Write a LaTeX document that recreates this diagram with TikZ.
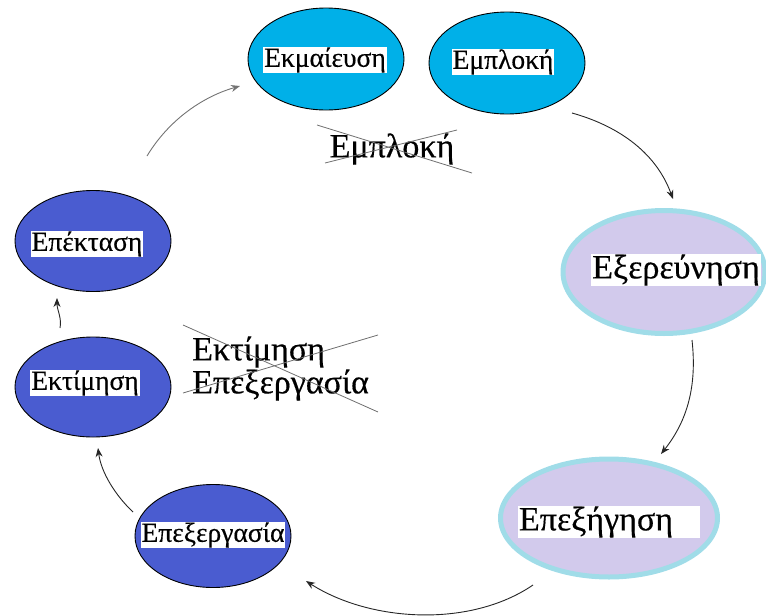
\documentclass[tikz,border=0pt]{standalone}
\usepackage{fontspec}
\setmainfont[FakeBold=0.4,AutoFakeBold=0.4]{Liberation Serif}
\usetikzlibrary{shapes.geometric,arrows.meta}
\definecolor{cyanfill}{RGB}{0,176,232}
\definecolor{bluefill}{RGB}{74,92,208}
\definecolor{lavfill}{RGB}{210,202,236}
\definecolor{lavborder}{RGB}{160,220,232}
\definecolor{strikegray}{RGB}{110,110,110}
\tikzset{
  blob/.style={ellipse, draw=black, line width=0.9pt, inner sep=0pt},
  cyanblob/.style={blob, fill=cyanfill, minimum width=156pt, minimum height=102pt},
  blueblob/.style={blob, fill=bluefill, minimum width=156pt, minimum height=101pt},
  lavblob/.style={ellipse, draw=lavborder, line width=5pt, fill=lavfill, inner sep=0pt},
  lab/.style={fill=white, inner xsep=1pt, inner ysep=0pt, text=black, font=\fontsize{27.5}{29}\selectfont\bfseries},
  biglab/.style={fill=white, inner xsep=1pt, inner ysep=0pt, text=black, font=\fontsize{34}{36}\selectfont\bfseries},
  strikelab/.style={inner sep=0pt, text=black, anchor=west, font=\fontsize{34}{36}\selectfont\bfseries},
  strikeline/.style={draw=strikegray, line width=0.8pt},
  flow/.style={draw=black!85, line width=0.9pt, -{Stealth[length=9pt,width=7pt]}},
}
\begin{document}
\begin{tikzpicture}[x=1pt,y=-1pt]
\useasboundingbox (0,0) rectangle (766,616);

% ellipses
\node[cyanblob] (ekm) at (326,59) {};
\node[lab] (ekmL) at (325,60) {Εκμαίευση};
\node[cyanblob] (empl) at (507,63) {};
\node[lab] (emplL) at (503,62) {Εμπλοκή};
\node[lavblob, minimum width=202pt, minimum height=123pt] (exer) at (664,272) {};
\node[biglab] (exerL) at (676,270) {Εξερεύνηση};
\node[lavblob, minimum width=217pt, minimum height=118pt] (epex) at (609,518) {};
\node[biglab, text width=180pt, align=left] (epexL) at (609,522) {Επεξήγηση};
\node[blueblob] (epek) at (93,241) {};
\node[lab] (epekL) at (87,244) {Επέκταση};
\node[blueblob, minimum height=100pt] (ektim) at (93,387) {};
\node[lab] (ektimL) at (85,383) {Εκτίμηση};
\node[blueblob, minimum height=103pt] (epexerg) at (213,536) {};
\node[lab] (epexergL) at (213,535) {Επεξεργασία};

% struck-out texts
\node[strikelab, anchor=center] (strike1) at (392,149) {Εμπλοκή};
\draw[strikeline] (317,125) -- (472,173);
\draw[strikeline] (325,163) -- (457,130);
\node[strikelab] (strike2) at (192,352) {Εκτίμηση};
\node[strikelab] (strike3) at (192,385) {Επεξεργασία};
\draw[strikeline] (183,325) -- (378,412);
\draw[strikeline] (183,393) -- (378,335);

% connector end points
\coordinate (a1s) at (147,156);
\coordinate (a1e) at (240,86);
\coordinate (a2s) at (572,113);
\coordinate (a2e) at (673,199);
\coordinate (a3s) at (692,340);
\coordinate (a3e) at (661,454);
\coordinate (a4s) at (533,585);
\coordinate (a4e) at (306,581);
\coordinate (a5s) at (133,512);
\coordinate (a5e) at (98,448);
\coordinate (a6s) at (60,328);
\coordinate (a6e) at (57,298);

\draw[flow, draw=black!55] (a1s) .. controls (170,118) and (205,96) .. (a1e);
\draw[flow] (a2s) .. controls (615,125) and (655,150) .. (a2e);
\draw[flow] (a3s) .. controls (697,385) and (688,420) .. (a3e);
\draw[flow] (a4s) .. controls (470,628) and (370,622) .. (a4e);
\draw[flow] (a5s) .. controls (115,495) and (101,472) .. (a5e);
\draw[flow] (a6s) .. controls (62,318) and (57,310) .. (a6e);
\end{tikzpicture}
\end{document}
